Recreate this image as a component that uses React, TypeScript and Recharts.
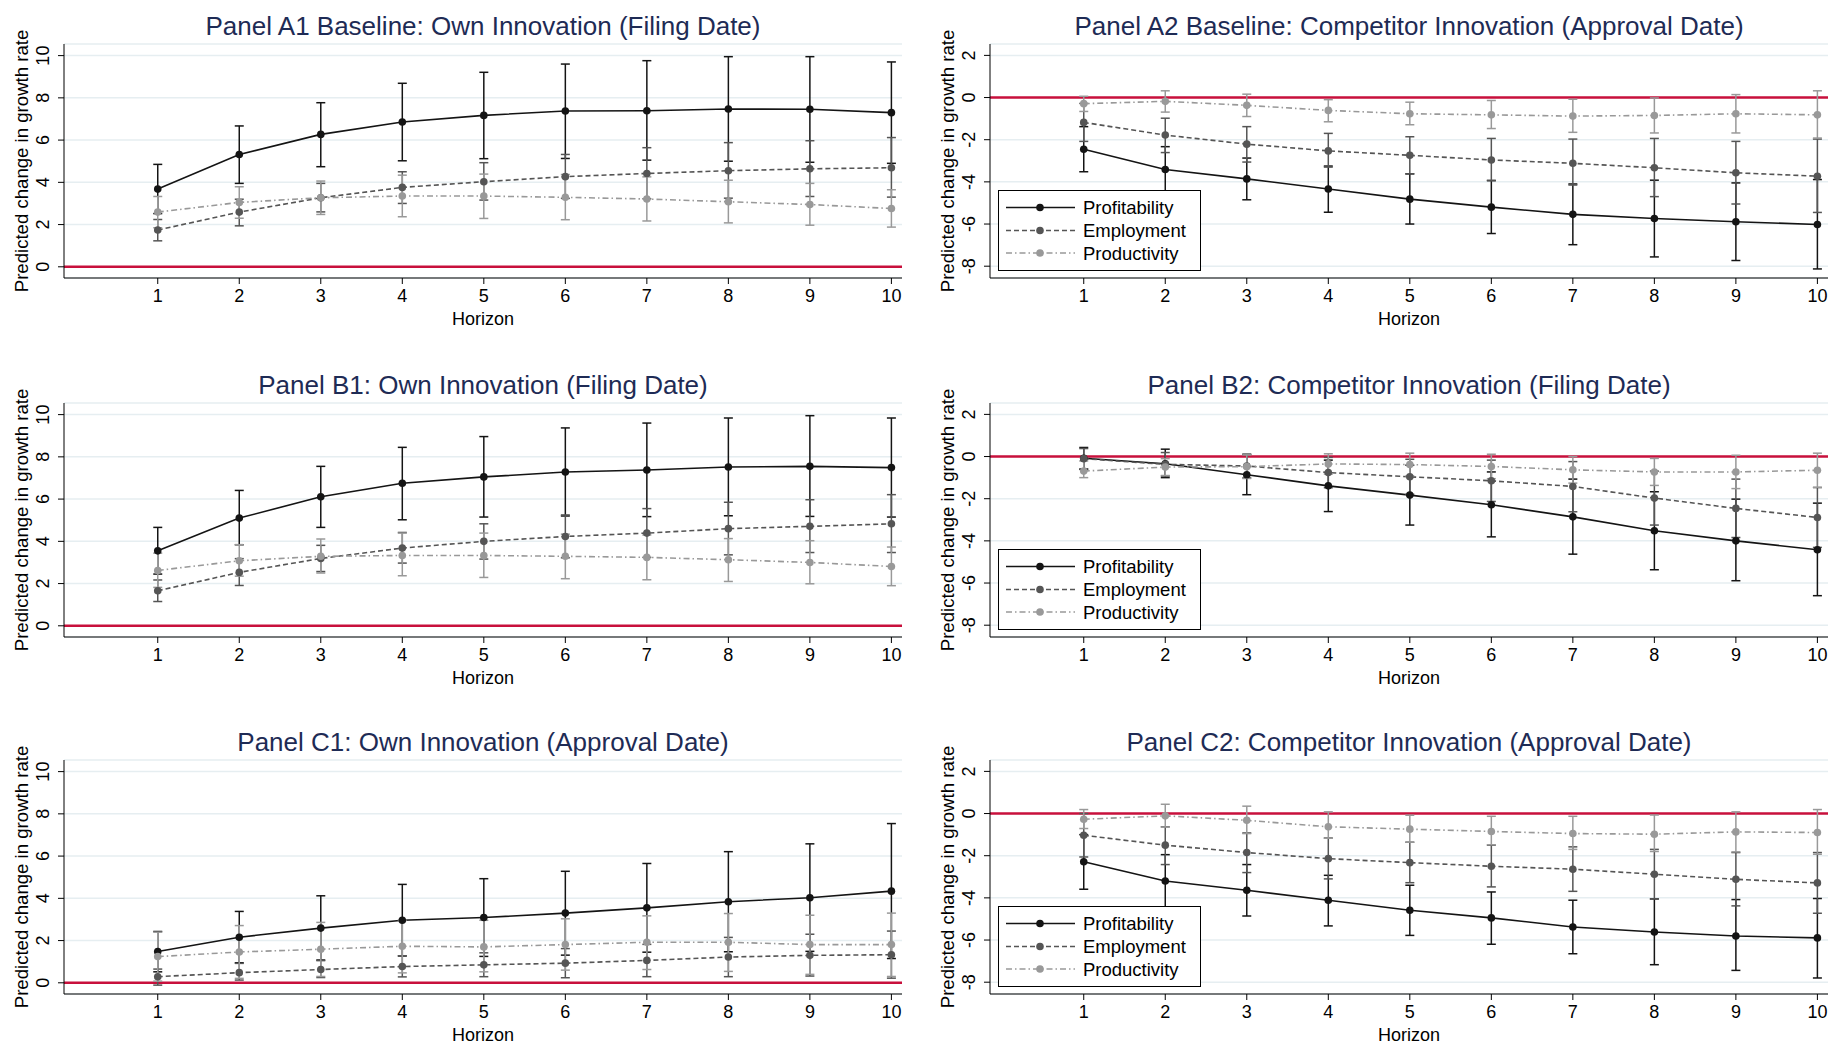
import React from "react";
import {
  CartesianGrid,
  ErrorBar,
  Label,
  Line,
  LineChart,
  ReferenceLine,
  XAxis,
  YAxis,
} from "recharts";

const HORIZON = [1, 2, 3, 4, 5, 6, 7, 8, 9, 10];
const OWN_TICKS = [0, 2, 4, 6, 8, 10];
const COMP_TICKS = [-8, -6, -4, -2, 0, 2];
const SERIES_NAMES = ["Profitability", "Employment", "Productivity"];

// Panel A1
const A1_PROF = [3.68, 5.32, 6.27, 6.86, 7.17, 7.38, 7.39, 7.47, 7.46, 7.3];
const A1_PROF_HI = [4.85, 6.67, 7.77, 8.69, 9.21, 9.6, 9.76, 9.95, 9.95, 9.7];
const A1_PROF_LO = [2.52, 3.95, 4.74, 5.02, 5.12, 5.13, 5.05, 5.0, 4.95, 4.9];
const A1_EMP = [1.74, 2.59, 3.27, 3.76, 4.03, 4.27, 4.42, 4.55, 4.64, 4.69];
const A1_EMP_HI = [2.24, 3.2, 3.95, 4.5, 4.93, 5.32, 5.64, 5.88, 5.97, 6.12];
const A1_EMP_LO = [1.23, 1.94, 2.6, 3.0, 3.16, 3.24, 3.22, 3.25, 3.33, 3.3];
const A1_PROD = [2.59, 3.05, 3.27, 3.35, 3.35, 3.29, 3.21, 3.08, 2.95, 2.76];
const A1_PROD_HI = [3.33, 3.79, 4.06, 4.34, 4.39, 4.37, 4.26, 4.1, 3.95, 3.65];
const A1_PROD_LO = [1.85, 2.3, 2.48, 2.37, 2.29, 2.23, 2.17, 2.08, 1.97, 1.88];

// Panel A2
const A2_PROF = [-2.45, -3.41, -3.86, -4.34, -4.82, -5.2, -5.54, -5.74, -5.89, -6.02];
const A2_PROF_HI = [-1.38, -2.33, -2.87, -3.25, -3.62, -3.93, -4.1, -3.92, -4.05, -3.89];
const A2_PROF_LO = [-3.52, -4.47, -4.85, -5.44, -6.0, -6.45, -6.98, -7.56, -7.73, -8.13];
const A2_EMP = [-1.18, -1.78, -2.21, -2.53, -2.74, -2.96, -3.12, -3.33, -3.57, -3.73];
const A2_EMP_HI = [-0.28, -0.98, -1.38, -1.7, -1.86, -1.94, -1.97, -1.94, -2.08, -1.97];
const A2_EMP_LO = [-2.08, -2.61, -3.06, -3.3, -3.62, -3.95, -4.15, -4.7, -5.05, -5.45];
const A2_PROD = [-0.29, -0.18, -0.37, -0.61, -0.77, -0.82, -0.88, -0.85, -0.77, -0.82];
const A2_PROD_HI = [0.06, 0.32, 0.16, -0.1, -0.22, -0.14, -0.08, -0.02, 0.14, 0.32];
const A2_PROD_LO = [-0.66, -0.69, -0.9, -1.15, -1.29, -1.47, -1.65, -1.68, -1.68, -1.92];

// Panel B1
const B1_PROF = [3.55, 5.1, 6.11, 6.75, 7.05, 7.28, 7.38, 7.52, 7.55, 7.49];
const B1_PROF_HI = [4.66, 6.41, 7.55, 8.45, 8.96, 9.37, 9.6, 9.84, 9.95, 9.84];
const B1_PROF_LO = [2.45, 3.84, 4.66, 5.02, 5.15, 5.2, 5.17, 5.21, 5.18, 5.15];
const B1_EMP = [1.66, 2.53, 3.19, 3.68, 4.0, 4.23, 4.39, 4.6, 4.71, 4.83];
const B1_EMP_HI = [2.17, 3.18, 3.81, 4.42, 4.83, 5.25, 5.55, 5.85, 5.97, 6.21];
const B1_EMP_LO = [1.15, 1.91, 2.57, 2.97, 3.16, 3.22, 3.24, 3.36, 3.47, 3.47];
const B1_PROD = [2.62, 3.08, 3.29, 3.33, 3.33, 3.29, 3.24, 3.13, 3.0, 2.81];
const B1_PROD_HI = [3.44, 3.84, 4.11, 4.39, 4.39, 4.34, 4.3, 4.13, 4.03, 3.73];
const B1_PROD_LO = [1.82, 2.35, 2.5, 2.37, 2.29, 2.23, 2.18, 2.1, 1.99, 1.9];

// Panel B2
const B2_PROF = [-0.08, -0.34, -0.86, -1.39, -1.83, -2.29, -2.86, -3.52, -4.0, -4.42];
const B2_PROF_HI = [0.43, 0.35, 0.1, -0.17, -0.41, -0.73, -1.07, -1.67, -2.02, -2.21];
const B2_PROF_LO = [-0.61, -1.0, -1.81, -2.61, -3.25, -3.81, -4.63, -5.37, -5.89, -6.6];
const B2_EMP = [-0.1, -0.37, -0.45, -0.76, -0.96, -1.15, -1.42, -1.97, -2.46, -2.89];
const B2_EMP_HI = [0.38, 0.19, 0.11, -0.04, -0.13, -0.17, -0.24, -0.69, -1.07, -1.47];
const B2_EMP_LO = [-0.58, -0.93, -1.01, -1.48, -1.79, -2.13, -2.62, -3.25, -3.84, -4.31];
const B2_PROD = [-0.69, -0.5, -0.48, -0.35, -0.38, -0.47, -0.63, -0.73, -0.73, -0.65];
const B2_PROD_HI = [-0.21, -0.1, 0.08, 0.13, 0.16, 0.11, 0.0, -0.09, 0.06, 0.16];
const B2_PROD_LO = [-1.0, -0.9, -1.04, -0.83, -0.92, -1.05, -1.26, -1.37, -1.52, -1.46];

// Panel C1
const C1_PROF = [1.48, 2.16, 2.59, 2.96, 3.09, 3.3, 3.55, 3.84, 4.03, 4.34];
const C1_PROF_HI = [2.43, 3.38, 4.12, 4.66, 4.93, 5.28, 5.65, 6.21, 6.58, 7.54];
const C1_PROF_LO = [0.52, 0.95, 1.08, 1.27, 1.25, 1.31, 1.45, 1.47, 1.49, 1.15];
const C1_EMP = [0.29, 0.48, 0.63, 0.77, 0.85, 0.93, 1.06, 1.22, 1.3, 1.33];
const C1_EMP_HI = [0.65, 0.92, 1.05, 1.28, 1.42, 1.62, 1.82, 2.15, 2.3, 2.45];
const C1_EMP_LO = [-0.11, 0.13, 0.25, 0.28, 0.29, 0.24, 0.29, 0.29, 0.32, 0.22];
const C1_PROD = [1.24, 1.46, 1.59, 1.73, 1.7, 1.81, 1.92, 1.92, 1.81, 1.81];
const C1_PROD_HI = [2.4, 2.71, 2.86, 2.95, 2.96, 3.03, 3.17, 3.28, 3.2, 3.3];
const C1_PROD_LO = [0.08, 0.21, 0.3, 0.47, 0.52, 0.6, 0.63, 0.54, 0.4, 0.3];

// Panel C2
const C2_PROF = [-2.29, -3.2, -3.64, -4.11, -4.59, -4.95, -5.38, -5.62, -5.81, -5.9];
const C2_PROF_HI = [-1.0, -1.95, -2.42, -2.93, -3.4, -3.72, -4.11, -4.05, -4.08, -4.03];
const C2_PROF_LO = [-3.59, -4.45, -4.86, -5.33, -5.78, -6.2, -6.65, -7.17, -7.44, -7.8];
const C2_EMP = [-1.03, -1.5, -1.85, -2.14, -2.33, -2.5, -2.64, -2.88, -3.12, -3.29];
const C2_EMP_HI = [0.0, -0.63, -0.92, -1.16, -1.36, -1.5, -1.58, -1.7, -1.85, -1.85];
const C2_EMP_LO = [-2.06, -2.42, -2.8, -3.1, -3.28, -3.48, -3.69, -4.05, -4.38, -4.73];
const C2_PROD = [-0.27, -0.11, -0.32, -0.63, -0.74, -0.85, -0.95, -0.98, -0.87, -0.9];
const C2_PROD_HI = [0.19, 0.44, 0.35, 0.08, -0.08, -0.13, -0.13, -0.07, 0.08, 0.19];
const C2_PROD_LO = [-0.71, -0.64, -0.95, -1.17, -1.36, -1.48, -1.7, -1.8, -1.82, -1.93];

const FONT = '"Liberation Sans", Arial, Helvetica, sans-serif';
const TITLE_COLOR = "#1e2b55";
const ZERO_COLOR = "#c8103c";
const GRID_COLOR = "#e6eef1";
const SERIES_STYLE = [
  { color: "#141414", dash: undefined },
  { color: "#555555", dash: "5 3" },
  { color: "#999999", dash: "6 3 1.5 3" },
];

const CHART_W = 914;
const CHART_H = 340;

type Series = { est: number[]; lo: number[]; hi: number[] };

function YTick(props: any) {
  const { x, y, payload } = props;
  const cx = x - 9;
  return (
    <text
      x={cx}
      y={y}
      transform={`rotate(-90 ${cx} ${y})`}
      textAnchor="middle"
      dominantBaseline="central"
      fontSize={18}
      fontFamily={FONT}
      fill="#000"
    >
      {payload.value}
    </text>
  );
}

function LegendBox() {
  const rows = [17.5, 40.5, 63];
  return (
    <svg
      width={203}
      height={81}
      style={{ position: "absolute", left: 84, top: 190, background: "#fff" }}
    >
      <rect x={0.5} y={0.5} width={202} height={80} fill="#fff" stroke="#000" strokeWidth={1} />
      {SERIES_NAMES.map((name, k) => (
        <g key={name}>
          <line
            x1={8}
            x2={77}
            y1={rows[k]}
            y2={rows[k]}
            stroke={SERIES_STYLE[k].color}
            strokeWidth={1.6}
            strokeDasharray={SERIES_STYLE[k].dash}
          />
          <circle cx={42} cy={rows[k]} r={3.8} fill={SERIES_STYLE[k].color} />
          <text
            x={85}
            y={rows[k]}
            dominantBaseline="central"
            fontSize={18.5}
            fontFamily={FONT}
            fill="#000"
          >
            {name}
          </text>
        </g>
      ))}
    </svg>
  );
}

function Panel({
  title,
  left,
  top,
  own,
  series,
}: {
  title: string;
  left: number;
  top: number;
  own: boolean;
  series: Series[];
}) {
  const axisW = own ? 64 : 76;
  const rightM = own ? 12 : 0;
  const plotW = CHART_W - axisW - rightM;
  const data = HORIZON.map((h, i) => {
    const row: Record<string, any> = { h };
    series.forEach((s, k) => {
      row[`v${k}`] = s.est[i];
      row[`e${k}`] = [s.est[i] - s.lo[i], s.hi[i] - s.est[i]];
    });
    return row;
  });

  return (
    <div style={{ position: "absolute", left, top, width: CHART_W, height: CHART_H }}>
      <div
        style={{
          position: "absolute",
          left: axisW,
          width: plotW,
          top: 11,
          lineHeight: "30px",
          textAlign: "center",
          fontSize: 26,
          fontFamily: FONT,
          color: TITLE_COLOR,
          whiteSpace: "nowrap",
        }}
      >
        {title}
      </div>
      <LineChart
        width={CHART_W}
        height={CHART_H}
        data={data}
        margin={{ top: 44, right: rightM, bottom: 0, left: 0 }}
      >
        <CartesianGrid vertical={false} stroke={GRID_COLOR} strokeWidth={1.5} />
        <XAxis
          type="number"
          dataKey="h"
          domain={[-0.15, 10.13]}
          ticks={HORIZON}
          interval={0}
          allowDataOverflow
          height={62}
          stroke="#000"
          tickSize={6}
          tickMargin={5}
          tick={{ fontSize: 18, fill: "#000", fontFamily: FONT }}
        >
          <Label
            value="Horizon"
            position="insideBottom"
            offset={15}
            style={{ fontSize: 18, fill: "#000", fontFamily: FONT }}
          />
        </XAxis>
        <YAxis
          type="number"
          domain={own ? [-0.53, 10.55] : [-8.56, 2.54]}
          ticks={own ? OWN_TICKS : COMP_TICKS}
          interval={0}
          allowDataOverflow
          width={axisW}
          stroke="#000"
          tickSize={6}
          tickMargin={6}
          tick={<YTick />}
        >
          <Label
            content={(p: any) => {
              const vb = p.viewBox;
              const cx = vb.x + vb.width - 43;
              const cy = vb.y + vb.height / 2;
              return (
                <text
                  x={cx}
                  y={cy}
                  transform={`rotate(-90 ${cx} ${cy})`}
                  textAnchor="middle"
                  dominantBaseline="central"
                  fontSize={18.6}
                  fontFamily={FONT}
                  fill="#000"
                >
                  Predicted change in growth rate
                </text>
              );
            }}
          />
        </YAxis>
        <ReferenceLine y={0} stroke={ZERO_COLOR} strokeWidth={2.5} />
        {series.map((s, k) => (
          <Line
            key={k}
            type="linear"
            dataKey={`v${k}`}
            name={SERIES_NAMES[k]}
            stroke={SERIES_STYLE[k].color}
            strokeWidth={1.6}
            strokeDasharray={SERIES_STYLE[k].dash}
            dot={{ r: 3.8, fill: SERIES_STYLE[k].color, stroke: "none", strokeDasharray: "" }}
            activeDot={false}
            isAnimationActive={false}
          >
            <ErrorBar
              dataKey={`e${k}`}
              direction="y"
              width={4.5}
              strokeWidth={1.5}
              stroke={SERIES_STYLE[k].color}
              isAnimationActive={false}
            />
          </Line>
        ))}
      </LineChart>
      {!own && <LegendBox />}
    </div>
  );
}

export default function App() {
  return (
    <div
      style={{
        position: "absolute",
        left: 0,
        top: 0,
        width: 1828,
        height: 1046,
        overflow: "hidden",
        background: "#fff",
      }}
    >
      <Panel
        title="Panel A1 Baseline: Own Innovation (Filing Date)"
        left={0}
        top={0}
        own
        series={[
          { est: A1_PROF, lo: A1_PROF_LO, hi: A1_PROF_HI },
          { est: A1_EMP, lo: A1_EMP_LO, hi: A1_EMP_HI },
          { est: A1_PROD, lo: A1_PROD_LO, hi: A1_PROD_HI },
        ]}
      />
      <Panel
        title="Panel A2 Baseline: Competitor Innovation (Approval Date)"
        left={914}
        top={0}
        own={false}
        series={[
          { est: A2_PROF, lo: A2_PROF_LO, hi: A2_PROF_HI },
          { est: A2_EMP, lo: A2_EMP_LO, hi: A2_EMP_HI },
          { est: A2_PROD, lo: A2_PROD_LO, hi: A2_PROD_HI },
        ]}
      />
      <Panel
        title="Panel B1: Own Innovation (Filing Date)"
        left={0}
        top={359}
        own
        series={[
          { est: B1_PROF, lo: B1_PROF_LO, hi: B1_PROF_HI },
          { est: B1_EMP, lo: B1_EMP_LO, hi: B1_EMP_HI },
          { est: B1_PROD, lo: B1_PROD_LO, hi: B1_PROD_HI },
        ]}
      />
      <Panel
        title="Panel B2: Competitor Innovation (Filing Date)"
        left={914}
        top={359}
        own={false}
        series={[
          { est: B2_PROF, lo: B2_PROF_LO, hi: B2_PROF_HI },
          { est: B2_EMP, lo: B2_EMP_LO, hi: B2_EMP_HI },
          { est: B2_PROD, lo: B2_PROD_LO, hi: B2_PROD_HI },
        ]}
      />
      <Panel
        title="Panel C1: Own Innovation (Approval Date)"
        left={0}
        top={716}
        own
        series={[
          { est: C1_PROF, lo: C1_PROF_LO, hi: C1_PROF_HI },
          { est: C1_EMP, lo: C1_EMP_LO, hi: C1_EMP_HI },
          { est: C1_PROD, lo: C1_PROD_LO, hi: C1_PROD_HI },
        ]}
      />
      <Panel
        title="Panel C2: Competitor Innovation (Approval Date)"
        left={914}
        top={716}
        own={false}
        series={[
          { est: C2_PROF, lo: C2_PROF_LO, hi: C2_PROF_HI },
          { est: C2_EMP, lo: C2_EMP_LO, hi: C2_EMP_HI },
          { est: C2_PROD, lo: C2_PROD_LO, hi: C2_PROD_HI },
        ]}
      />
    </div>
  );
}
